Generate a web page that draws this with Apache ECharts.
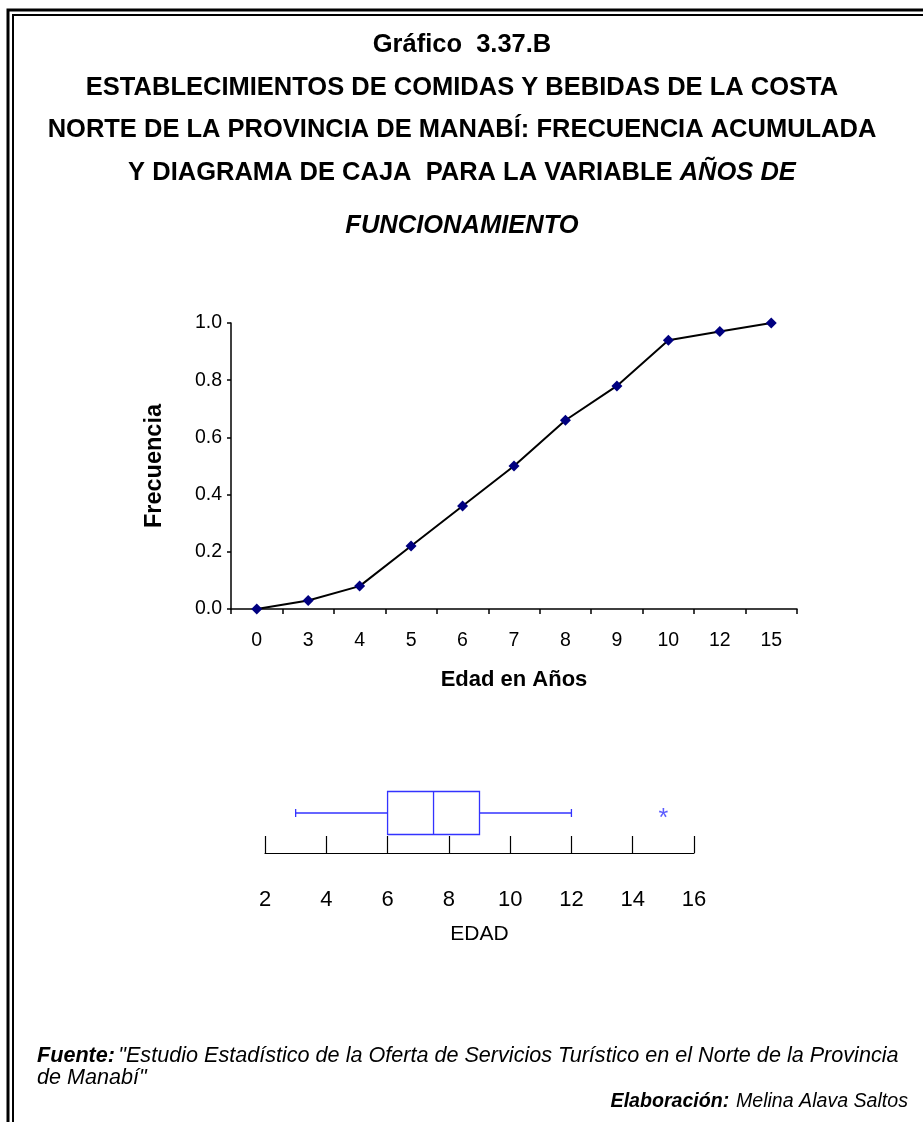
<!DOCTYPE html>
<html>
<head>
<meta charset="utf-8">
<script src="https://cdn.jsdelivr.net/npm/echarts@6/dist/echarts.min.js"></script>
<style>
    html, body { margin: 0; padding: 0; background: #fff; }
    #chart { width: 923px; height: 1122px; }
</style>
</head>
<body>
<div id="chart"></div>
<script>
// datos de la ojiva (frecuencia acumulada)
const edadCats = ['0', '3', '4', '5', '6', '7', '8', '9', '10', '12', '15'];
const frecAcum = [0, 0.03, 0.08, 0.22, 0.36, 0.50, 0.66, 0.78, 0.94, 0.97, 1.00];
// diagrama de caja: min, Q1, mediana, Q3, max
const cajaEdad = [3, 6, 7.5, 9, 12];
const atipicos = [15];

const fuente = 'Liberation Sans, Arial, sans-serif';
const azul = '#3333ff';

// lineas del titulo: [texto rich, y]
const tituloLineas = [
    ['{b|Gráfico  3.37.B}', 45],
    ['{b|ESTABLECIMIENTOS DE COMIDAS Y BEBIDAS DE LA COSTA}', 88],
    ['{b|NORTE DE LA PROVINCIA DE MANABÍ: FRECUENCIA ACUMULADA}', 130],
    ['{b|Y DIAGRAMA DE CAJA  PARA LA VARIABLE }{bi|AÑOS DE}', 173],
    ['{bi|FUNCIONAMIENTO}', 226]
];
const richTitulo = {
    b: { fontFamily: fuente, fontWeight: 'bold', fontSize: 25.5, fill: '#000' },
    bi: { fontFamily: fuente, fontWeight: 'bold', fontStyle: 'italic', fontSize: 25.5, fill: '#000' }
};
const richPie = {
    b: { fontFamily: fuente, fontWeight: 'bold', fontStyle: 'italic', fontSize: 21.6, lineHeight: 22, fill: '#000' },
    i: { fontFamily: fuente, fontStyle: 'italic', fontSize: 21.6, lineHeight: 22, fill: '#000' }
};
const richElab = {
    b: { fontFamily: fuente, fontWeight: 'bold', fontStyle: 'italic', fontSize: 19.6, lineHeight: 22, fill: '#000' },
    i: { fontFamily: fuente, fontStyle: 'italic', fontSize: 19.6, lineHeight: 22, fill: '#000' }
};

const myChart = echarts.init(document.getElementById('chart'));

const option = {
    animation: false,
    backgroundColor: '#fff',
    textStyle: { fontFamily: fuente, color: '#000' },
    graphic: [
        // doble marco
        { type: 'rect', shape: { x: 8, y: 10, width: 1000, height: 1200 }, style: { fill: 'none', stroke: '#000', lineWidth: 3 } },
        { type: 'rect', shape: { x: 13, y: 15, width: 1000, height: 1200 }, style: { fill: 'none', stroke: '#000', lineWidth: 2 } },
        ...tituloLineas.map(([t, y]) => ({
            type: 'text',
            x: 462,
            y: y,
            style: { text: t, rich: richTitulo, align: 'center', verticalAlign: 'middle' }
        })),
        {
            type: 'text', x: 37, y: 1045,
            style: {
                text: '{b|Fuente:} {i|"Estudio Estadístico de la Oferta de Servicios Turístico en el Norte de la Provincia}\n{i|de Manabí"}',
                rich: richPie
            }
        },
        {
            type: 'text', x: 908, y: 1091,
            style: {
                text: '{b|Elaboración:}  {i|Melina Alava Saltos}',
                rich: richElab,
                align: 'right'
            }
        }
    ],
    grid: [
        { left: 231, top: 323, width: 566, height: 286 },
        { left: 265, top: 773, width: 429, height: 80 }
    ],
    xAxis: [
        {
            gridIndex: 0,
            type: 'category',
            data: edadCats,
            boundaryGap: true,
            name: 'Edad en Años',
            nameLocation: 'middle',
            nameGap: 60,
            nameTextStyle: { fontFamily: fuente, fontWeight: 'bold', fontSize: 22, color: '#000' },
            axisLine: { show: true, lineStyle: { color: '#000', width: 1.5 } },
            axisTick: { show: true, inside: false, length: 5, lineStyle: { color: '#000', width: 1.5 } },
            axisLabel: { color: '#000', fontSize: 19.5, margin: 22 },
            splitLine: { show: false }
        },
        {
            gridIndex: 1,
            type: 'value',
            min: 2,
            max: 16,
            interval: 2,
            name: 'EDAD',
            nameLocation: 'middle',
            nameGap: 71,
            nameTextStyle: { fontFamily: fuente, fontSize: 21, color: '#000' },
            axisLine: { show: true, onZero: false, lineStyle: { color: '#000', width: 1.2 } },
            axisTick: { show: true, inside: true, length: 17, lineStyle: { color: '#000', width: 1.2 } },
            axisLabel: { color: '#000', fontSize: 22, margin: 36 },
            splitLine: { show: false }
        }
    ],
    yAxis: [
        {
            gridIndex: 0,
            type: 'value',
            min: 0,
            max: 1,
            interval: 0.2,
            name: 'Frecuencia',
            nameLocation: 'middle',
            nameGap: 64,
            nameRotate: 90,
            nameTextStyle: { fontFamily: fuente, fontWeight: 'bold', fontSize: 23.5, color: '#000' },
            axisLine: { show: true, lineStyle: { color: '#000', width: 1.5 } },
            axisTick: { show: true, inside: false, length: 4, lineStyle: { color: '#000', width: 1.5 } },
            axisLabel: { color: '#000', fontSize: 19.5, margin: 9, formatter: (v) => v.toFixed(1) },
            splitLine: { show: false }
        },
        {
            gridIndex: 1,
            type: 'category',
            data: ['EDAD'],
            show: false
        }
    ],
    series: [
        {
            name: 'Frecuencia acumulada',
            type: 'line',
            xAxisIndex: 0,
            yAxisIndex: 0,
            data: frecAcum,
            symbol: 'diamond',
            symbolSize: 11,
            itemStyle: { color: '#000080' },
            lineStyle: { color: '#000', width: 2 }
        },
        {
            name: 'Caja',
            type: 'custom',
            xAxisIndex: 1,
            yAxisIndex: 1,
            data: [cajaEdad],
            renderItem: (params, api) => {
                const yc = api.coord([api.value(0), 0])[1];
                const x = (i) => api.coord([api.value(i), 0])[0];
                const hb = 21.5, hc = 4;
                const st = { stroke: azul, lineWidth: 1.3, fill: 'none' };
                return {
                    type: 'group',
                    children: [
                        { type: 'line', shape: { x1: x(0), y1: yc, x2: x(1), y2: yc }, style: st },
                        { type: 'line', shape: { x1: x(3), y1: yc, x2: x(4), y2: yc }, style: st },
                        { type: 'line', shape: { x1: x(0), y1: yc - hc, x2: x(0), y2: yc + hc }, style: st },
                        { type: 'line', shape: { x1: x(4), y1: yc - hc, x2: x(4), y2: yc + hc }, style: st },
                        { type: 'rect', shape: { x: x(1), y: yc - hb, width: x(3) - x(1), height: 2 * hb }, style: st },
                        { type: 'line', shape: { x1: x(2), y1: yc - hb, x2: x(2), y2: yc + hb }, style: st }
                    ]
                };
            }
        },
        {
            name: 'Atípicos',
            type: 'scatter',
            xAxisIndex: 1,
            yAxisIndex: 1,
            data: atipicos.map((v) => [v, 'EDAD']),
            symbolSize: 0,
            label: {
                show: true,
                position: 'inside',
                formatter: '*',
                color: azul,
                fontSize: 25,
                offset: [0, 6]
            }
        }
    ]
};

myChart.setOption(option);
</script>
</body>
</html>
